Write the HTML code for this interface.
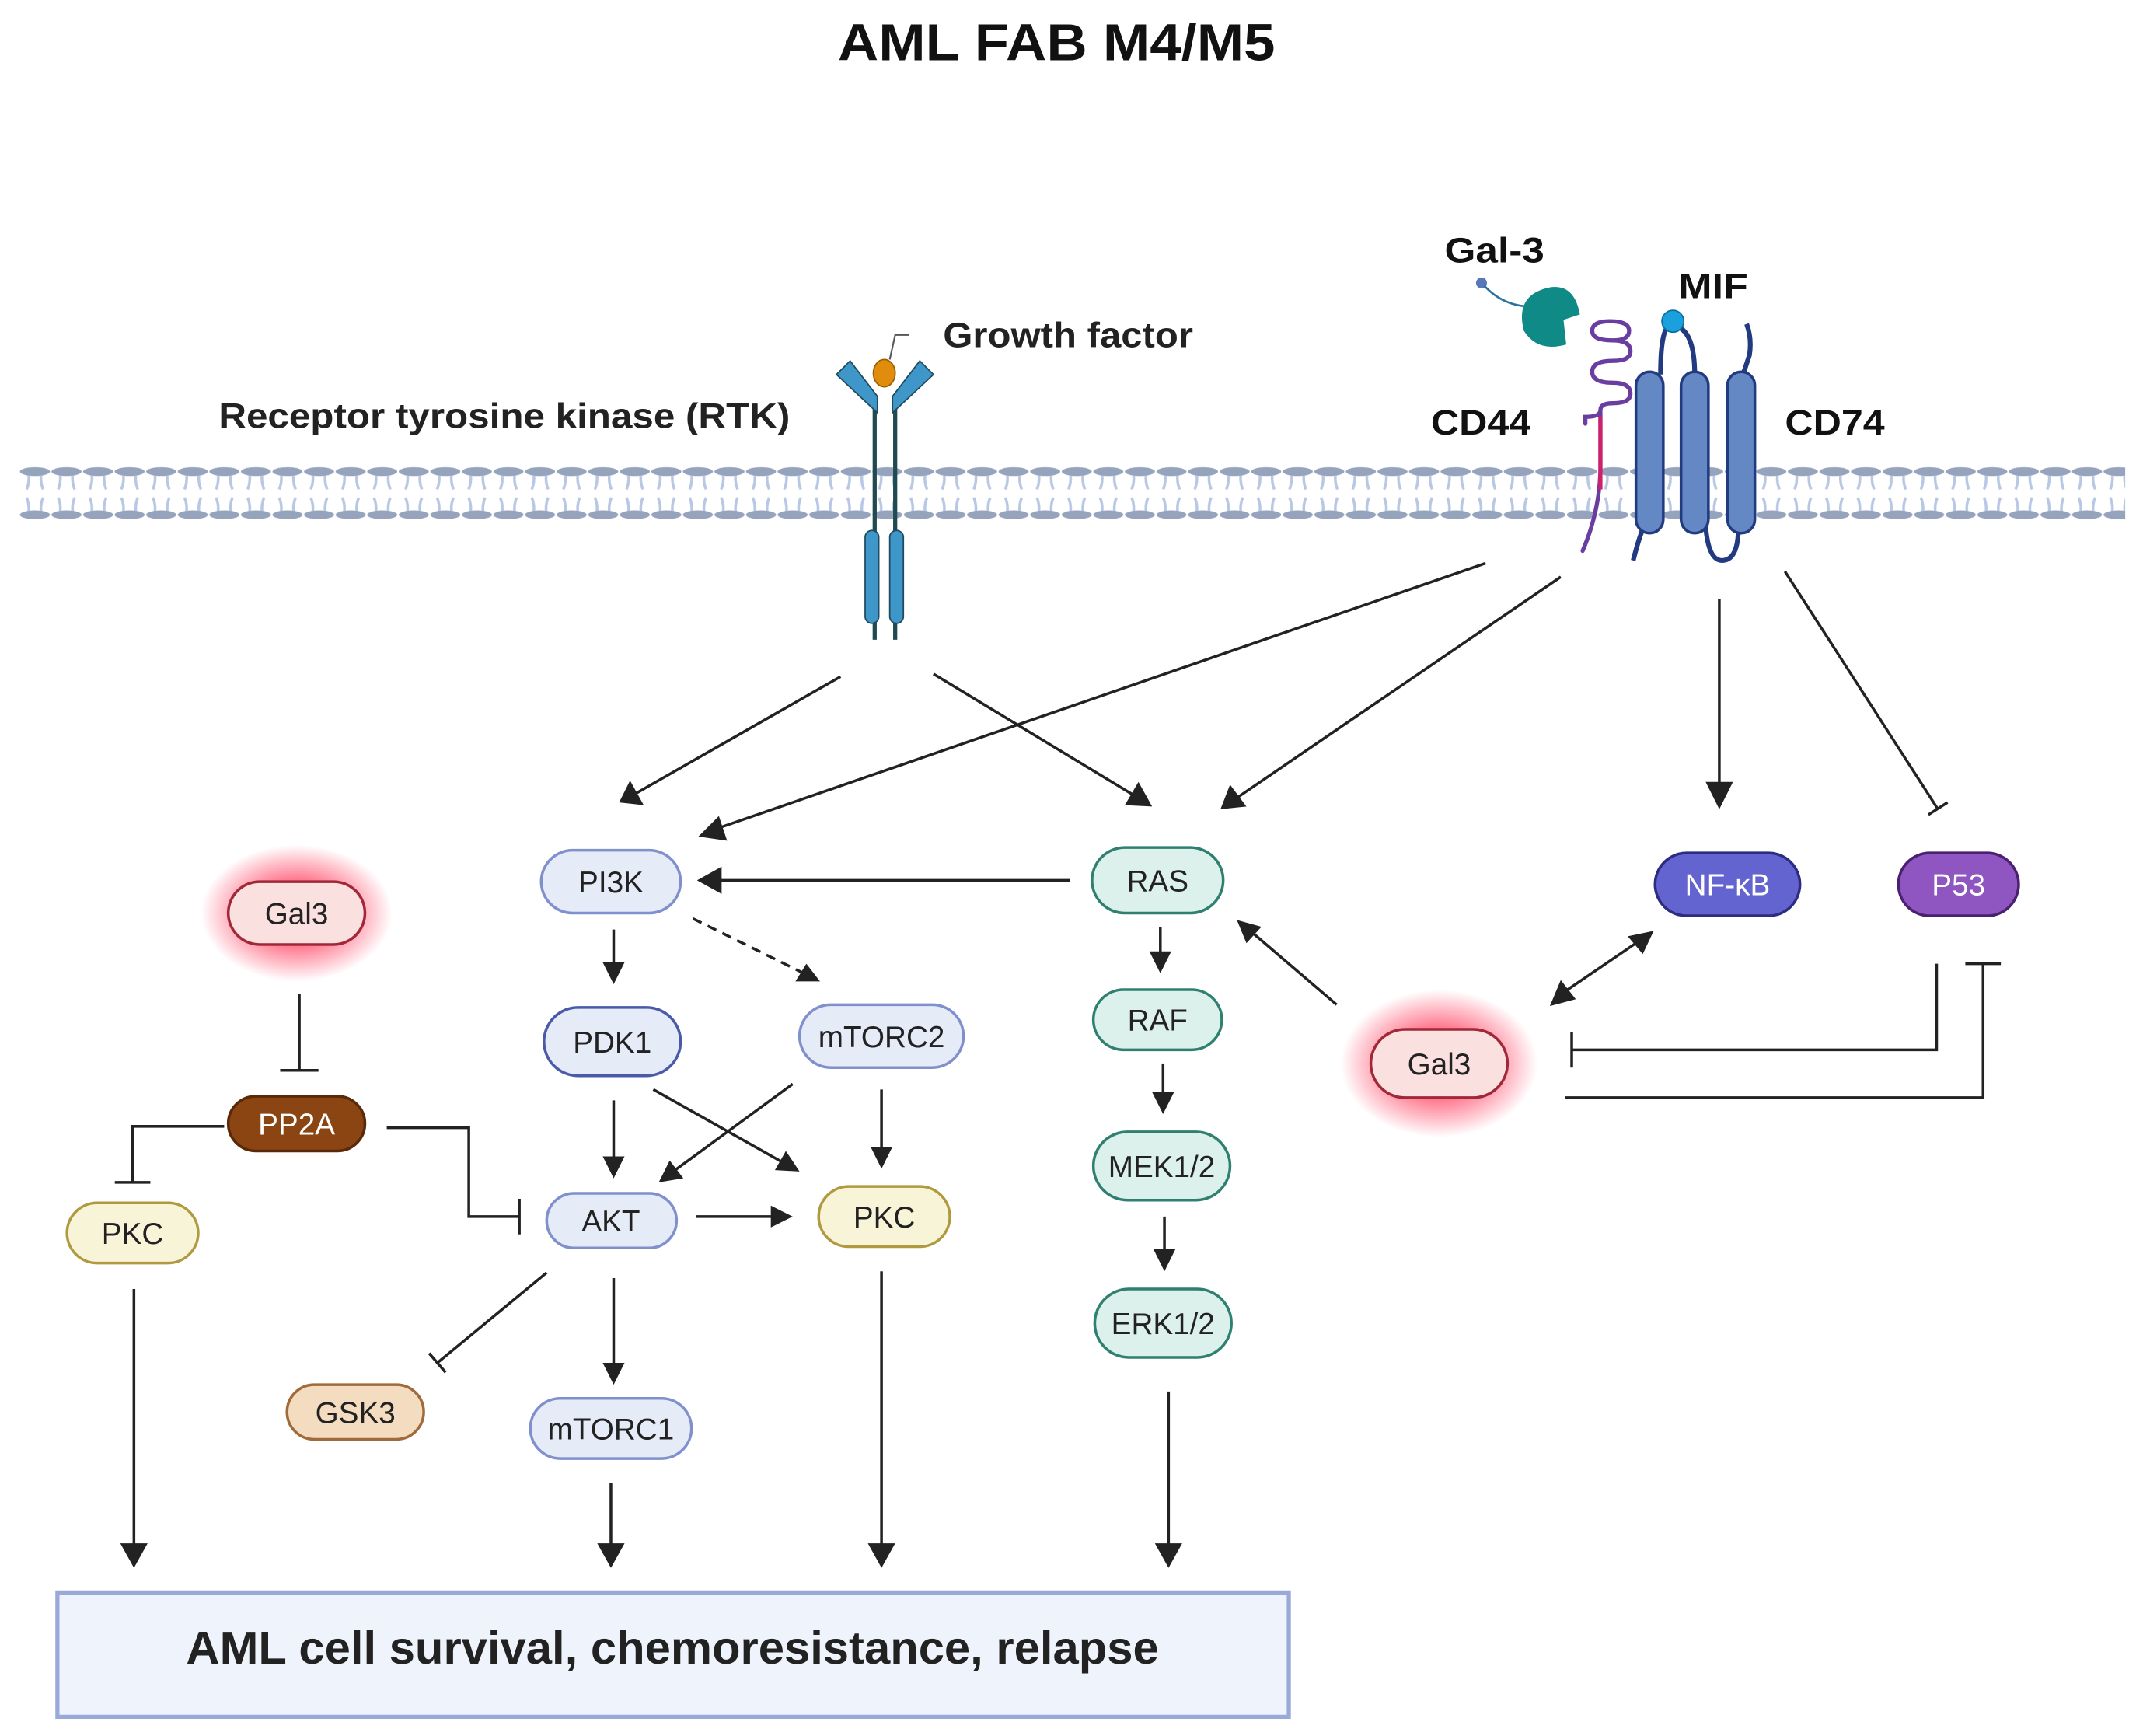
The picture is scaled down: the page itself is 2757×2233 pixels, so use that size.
<!DOCTYPE html>
<html><head><meta charset="utf-8"><style>
html,body{margin:0;padding:0;background:#fff;}
svg{display:block;}
text{font-family:"Liberation Sans",sans-serif;}
</style></head><body>
<svg width="2757" height="2233" viewBox="0 0 1568 1270" xmlns="http://www.w3.org/2000/svg">
<defs>
<pattern id="mem" x="14" y="330" width="23.1" height="60" patternUnits="userSpaceOnUse">
<path d="M7 18 Q7.5 23 5.5 28 M16 18 Q15.5 23 17.5 28 M7 44 Q7.5 39 5.5 34 M16 44 Q15.5 39 17.5 34" stroke="#b8c8e4" stroke-width="2" fill="none"/>
<ellipse cx="11.55" cy="15" rx="11" ry="3.2" fill="#95a3bd"/>
<ellipse cx="11.55" cy="46.6" rx="11" ry="3.2" fill="#95a3bd"/>
</pattern>
<radialGradient id="glow">
<stop offset="0.45" stop-color="#ff4060" stop-opacity="0.75"/>
<stop offset="1" stop-color="#ff4060" stop-opacity="0"/>
</radialGradient>
</defs>

<text x="613" y="44" font-size="38" font-weight="bold" fill="#111" textLength="320" lengthAdjust="spacingAndGlyphs">AML FAB M4/M5</text>

<!-- membrane -->
<rect x="14" y="330" width="1541" height="60" fill="url(#mem)"/>

<!-- RTK -->
<g>
<line x1="640" y1="290" x2="640" y2="468" stroke="#1f4a50" stroke-width="3"/>
<line x1="655" y1="290" x2="655" y2="468" stroke="#1f4a50" stroke-width="3"/>
<path d="M612 274 L622 264 L642 290 L642 302 Z" fill="#3f96c8" stroke="#1f4a60" stroke-width="1"/>
<path d="M683 274 L673 264 L653 290 L653 302 Z" fill="#3f96c8" stroke="#1f4a60" stroke-width="1"/>
<ellipse cx="647" cy="273" rx="8" ry="10" fill="#e08c0c" stroke="#a06000"/>
<rect x="633" y="388" width="10" height="68" rx="5" fill="#3f96c8" stroke="#1f4a60"/>
<rect x="651" y="388" width="10" height="68" rx="5" fill="#3f96c8" stroke="#1f4a60"/>
<path d="M651 263 L655 245 L665 245" stroke="#555" fill="none" stroke-width="1.2"/>
<text x="690" y="254" font-size="26" font-weight="bold" fill="#222" textLength="183" lengthAdjust="spacingAndGlyphs">Growth factor</text>
<text x="160" y="313" font-size="26" font-weight="bold" fill="#222" textLength="418" lengthAdjust="spacingAndGlyphs">Receptor tyrosine kinase (RTK)</text>
</g>

<!-- CD44 / Gal-3 / CD74 / MIF -->
<g>
<text x="1057" y="192" font-size="26" font-weight="bold" fill="#111" textLength="73" lengthAdjust="spacingAndGlyphs">Gal-3</text>
<text x="1228" y="218" font-size="26" font-weight="bold" fill="#111" textLength="51" lengthAdjust="spacingAndGlyphs">MIF</text>
<text x="1047" y="318" font-size="26" font-weight="bold" fill="#111" textLength="73" lengthAdjust="spacingAndGlyphs">CD44</text>
<text x="1306" y="318" font-size="26" font-weight="bold" fill="#111" textLength="73" lengthAdjust="spacingAndGlyphs">CD74</text>
<circle cx="1084" cy="207" r="4" fill="#5878b8"/>
<path d="M1086 209 Q1098 222 1115 224" stroke="#2a6fa0" stroke-width="1.5" fill="none"/>
<path d="M1135 210 Q1152 208 1156 230 L1144 234 L1146 252 Q1125 258 1115 242 Q1108 215 1135 210 Z" fill="#0f8a86"/>
<path d="M1158 403 Q1170 375 1171 345 L1171 300 Q1171 295 1180 295 Q1193 295 1193 288 Q1193 280 1180 280 Q1165 280 1165 272 Q1165 264 1180 264 Q1193 264 1193 257 Q1193 249 1180 249 Q1165 249 1165 242 Q1165 235 1178 235 Q1192 235 1192 242 Q1192 249 1180 249 M1171 300 Q1171 305 1160 305 L1160 310" stroke="#6a3ea0" stroke-width="3" fill="none" stroke-linecap="round"/>
<line x1="1171" y1="305" x2="1171" y2="358" stroke="#d0206a" stroke-width="3"/>
<path d="M1195 410 Q1200 390 1205 380 M1215 274 Q1215 240 1222 238 Q1240 238 1240 274 M1248 385 Q1250 410 1260 410 Q1272 410 1272 385 M1275 275 L1280 260 Q1282 248 1278 237" stroke="#223a80" stroke-width="3.5" fill="none"/>
<rect x="1197" y="272" width="20" height="118" rx="10" fill="#6488c4" stroke="#223a80" stroke-width="2"/>
<rect x="1230" y="272" width="20" height="118" rx="10" fill="#6488c4" stroke="#223a80" stroke-width="2"/>
<rect x="1264" y="272" width="20" height="118" rx="10" fill="#6488c4" stroke="#223a80" stroke-width="2"/>
<circle cx="1224" cy="235" r="8" fill="#1aa0dc" stroke="#0a6fa0"/>
</g>

<!-- glows -->
<ellipse cx="217" cy="668" rx="70" ry="50" fill="url(#glow)"/>
<ellipse cx="1053" cy="778" rx="72" ry="54" fill="url(#glow)"/>

<!-- connectors -->
<g stroke="#222" stroke-width="2" fill="none">
<line x1="615" y1="495" x2="466" y2="580"/>
<line x1="683" y1="493" x2="830" y2="582"/>
<line x1="1087" y1="412" x2="525" y2="606"/>
<line x1="1142" y1="422" x2="906" y2="583"/>
<line x1="1258" y1="438" x2="1258" y2="575"/>
<line x1="1306" y1="418" x2="1418" y2="592"/>
<line x1="1411" y1="596" x2="1425" y2="587"/>
<line x1="783" y1="644" x2="525" y2="644"/>
<line x1="449" y1="680" x2="449" y2="706"/>
<line x1="507" y1="672" x2="588" y2="712" stroke-dasharray="7,5"/>
<line x1="449" y1="805" x2="449" y2="848"/>
<line x1="478" y1="797" x2="572" y2="850"/>
<line x1="580" y1="793" x2="494" y2="856"/>
<line x1="645" y1="797" x2="645" y2="841"/>
<line x1="509" y1="890" x2="566" y2="890"/>
<line x1="400" y1="931" x2="320" y2="997"/>
<line x1="314" y1="990" x2="326" y2="1004"/>
<line x1="449" y1="935" x2="449" y2="998"/>
<line x1="447" y1="1085" x2="447" y2="1132"/>
<line x1="645" y1="930" x2="645" y2="1132"/>
<line x1="98" y1="943" x2="98" y2="1132"/>
<line x1="855" y1="1018" x2="855" y2="1132"/>
<line x1="849" y1="678" x2="849" y2="698"/>
<line x1="851" y1="778" x2="851" y2="800"/>
<line x1="852" y1="890" x2="852" y2="915"/>
<line x1="219" y1="727" x2="219" y2="783"/>
<line x1="205" y1="783" x2="233" y2="783"/>
<polyline points="164,824 97,824 97,865"/>
<line x1="84" y1="865" x2="110" y2="865"/>
<polyline points="283,825 343,825 343,890 380,890"/>
<line x1="380" y1="877" x2="380" y2="903"/>
<line x1="978" y1="735" x2="916" y2="682"/>
<line x1="1147" y1="724" x2="1197" y2="690"/>
<polyline points="1417,705 1417,768 1150,768"/>
<line x1="1150" y1="755" x2="1150" y2="781"/>
<polyline points="1145,803 1451,803 1451,705"/>
<line x1="1438" y1="705" x2="1464" y2="705"/>
</g>
<!-- arrowheads -->
<g fill="#222">
<polygon points="453,587 461,571 471,589"/>
<polygon points="843,590 823,589 833,572"/>
<polygon points="511,612 526,597 532,615"/>
<polygon points="893,592 900,574 912,590"/>
<polygon points="1258,592 1248,572 1268,572"/>
<polygon points="510,644 528,634 528,654"/>
<polygon points="449,720 441,704 457,704"/>
<polygon points="600,718 582,718 590,705"/>
<polygon points="449,862 441,846 457,846"/>
<polygon points="585,857 567,856 575,842"/>
<polygon points="482,865 490,849 500,862"/>
<polygon points="645,855 637,839 653,839"/>
<polygon points="580,890 564,882 564,898"/>
<polygon points="449,1013 441,997 457,997"/>
<polygon points="447,1147 437,1129 457,1129"/>
<polygon points="645,1147 635,1129 655,1129"/>
<polygon points="98,1147 88,1129 108,1129"/>
<polygon points="855,1147 845,1129 865,1129"/>
<polygon points="849,712 841,696 857,696"/>
<polygon points="851,815 843,799 859,799"/>
<polygon points="852,930 844,914 860,914"/>
<polygon points="905,673 923,678 912,690"/>
<polygon points="1210,681 1202,698 1191,685"/>
<polygon points="1134,736 1153,731 1142,717"/>
</g>

<!-- nodes -->
<g font-size="22" text-anchor="middle" stroke-width="2">
<rect x="396" y="622" width="102" height="46" rx="23" fill="#e6ebf8" stroke="#8090cc"/><text x="447" y="653" fill="#222" stroke="none">PI3K</text>
<rect x="398" y="737" width="100" height="50" rx="25" fill="#e6ebf8" stroke="#4a5aa8"/><text x="448" y="770" fill="#222" stroke="none">PDK1</text>
<rect x="585" y="735" width="120" height="46" rx="23" fill="#e6ebf8" stroke="#8090cc"/><text x="645" y="766" fill="#222" stroke="none">mTORC2</text>
<rect x="400" y="873" width="95" height="40" rx="20" fill="#e6ebf8" stroke="#8090cc"/><text x="447" y="901" fill="#222" stroke="none">AKT</text>
<rect x="599" y="868" width="96" height="44" rx="22" fill="#f8f4d8" stroke="#b09a40"/><text x="647" y="898" fill="#222" stroke="none">PKC</text>
<rect x="388" y="1023" width="118" height="44" rx="22" fill="#e6ebf8" stroke="#8090cc"/><text x="447" y="1053" fill="#222" stroke="none">mTORC1</text>
<rect x="210" y="1013" width="100" height="40" rx="20" fill="#f3dcc0" stroke="#a06a3a"/><text x="260" y="1041" fill="#222" stroke="none">GSK3</text>
<rect x="167" y="645" width="100" height="46" rx="23" fill="#fbe0e0" stroke="#a02838"/><text x="217" y="676" fill="#222" stroke="none">Gal3</text>
<rect x="167" y="802" width="100" height="40" rx="20" fill="#8b4513" stroke="#5a2a08"/><text x="217" y="830" fill="#fff" stroke="none">PP2A</text>
<rect x="49" y="880" width="96" height="44" rx="22" fill="#f8f4d8" stroke="#b09a40"/><text x="97" y="910" fill="#222" stroke="none">PKC</text>
<rect x="799" y="620" width="96" height="48" rx="24" fill="#dcf0ec" stroke="#2f8070"/><text x="847" y="652" fill="#222" stroke="none">RAS</text>
<rect x="800" y="724" width="94" height="44" rx="22" fill="#dcf0ec" stroke="#2f8070"/><text x="847" y="754" fill="#222" stroke="none">RAF</text>
<rect x="800" y="828" width="100" height="50" rx="25" fill="#dcf0ec" stroke="#2f8070"/><text x="850" y="861" fill="#222" stroke="none">MEK1/2</text>
<rect x="801" y="943" width="100" height="50" rx="25" fill="#dcf0ec" stroke="#2f8070"/><text x="851" y="976" fill="#222" stroke="none">ERK1/2</text>
<rect x="1211" y="624" width="106" height="46" rx="23" fill="#6464d0" stroke="#2c2c80"/><text x="1264" y="655" fill="#fff" stroke="none">NF-κB</text>
<rect x="1389" y="624" width="88" height="46" rx="23" fill="#8f55c0" stroke="#4a2070"/><text x="1433" y="655" fill="#fff" stroke="none">P53</text>
<rect x="1003" y="753" width="100" height="50" rx="25" fill="#fbe0e0" stroke="#a02838"/><text x="1053" y="786" fill="#222" stroke="none">Gal3</text>
</g>

<!-- outcome box -->
<rect x="42" y="1165" width="901" height="91" fill="#eef3fc" stroke="#9aaad8" stroke-width="3"/>
<text x="492" y="1217" font-size="34" font-weight="bold" text-anchor="middle" fill="#222">AML cell survival, chemoresistance, relapse</text>
</svg>
</body></html>
